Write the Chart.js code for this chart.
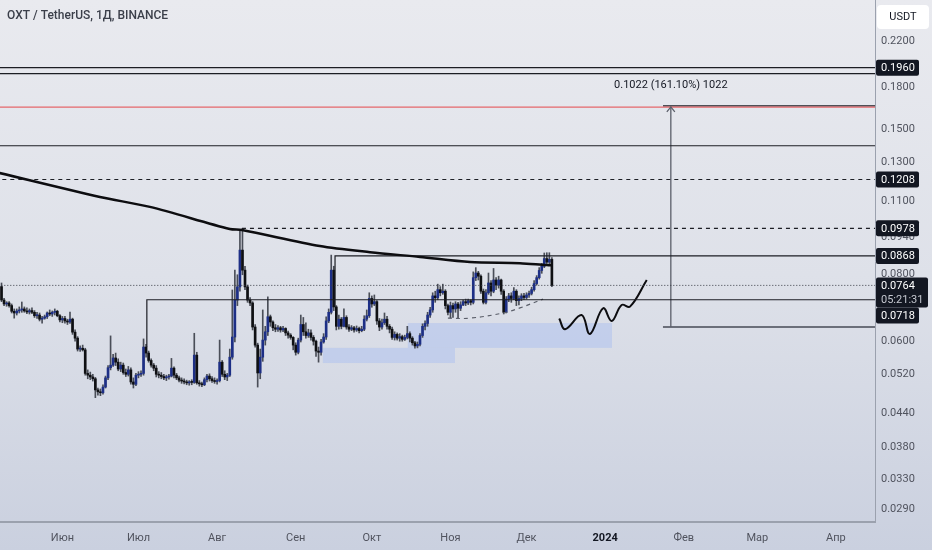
<!DOCTYPE html>
<html lang="ru">
<head>
<meta charset="utf-8">
<title>OXT / TetherUS</title>
<script src="https://cdn.jsdelivr.net/npm/chart.js@4.4.1/dist/chart.umd.min.js"></script>
<style>
  html, body { margin: 0; padding: 0; background: #dfe2ea; }
  #chart-box { width: 932px; height: 550px; }
</style>
</head>
<body>
<div id="chart-box"><canvas id="price-chart" width="932" height="550"></canvas></div>
<script>
// ===== データ =====
// 日数は 2023年6月1日 を 0 とした通し番号（ローソク足は5月8日 = -24 から）
const FIRST_DAY = -24;
const FIRST_OPEN = 0.0760;

// 終値
const closes = [
    0.0717, 0.0705, 0.0708, 0.0700, 0.0683, 0.0678, 0.0684, 0.0687, 0.0690, 0.0684, // -24
    0.0681, 0.0685, 0.0680, 0.0670, 0.0672, 0.0660, 0.0663, 0.0667, 0.0678, 0.0675, // -14
    0.0680, 0.0683, 0.0670, 0.0658, 0.0662, 0.0655, 0.0652, 0.0660, 0.0624, 0.0608, // -4
    0.0580, 0.0582, 0.0578, 0.0522, 0.0518, 0.0514, 0.0510, 0.0486, 0.0482, 0.0480, // 6
    0.0492, 0.0512, 0.0535, 0.0541, 0.0558, 0.0548, 0.0532, 0.0541, 0.0524, 0.0520, // 16
    0.0530, 0.0503, 0.0498, 0.0518, 0.0520, 0.0522, 0.0585, 0.0570, 0.0552, 0.0541, // 26
    0.0534, 0.0520, 0.0518, 0.0515, 0.0512, 0.0514, 0.0516, 0.0534, 0.0518, 0.0512, // 36
    0.0507, 0.0505, 0.0503, 0.0501, 0.0503, 0.0502, 0.0565, 0.0501, 0.0499, 0.0497, // 46
    0.0508, 0.0516, 0.0510, 0.0506, 0.0504, 0.0506, 0.0548, 0.0520, 0.0514, 0.0518, // 56
    0.0560, 0.0611, 0.0717, 0.0759, 0.0890, 0.0816, 0.0759, 0.0717, 0.0708, 0.0638, // 66
    0.0590, 0.0523, 0.0560, 0.0603, 0.0625, 0.0667, 0.0652, 0.0636, 0.0632, 0.0636, // 76
    0.0630, 0.0634, 0.0622, 0.0616, 0.0610, 0.0590, 0.0572, 0.0603, 0.0645, 0.0625, // 86
    0.0615, 0.0622, 0.0610, 0.0600, 0.0575, 0.0572, 0.0598, 0.0611, 0.0655, 0.0680, // 96
    0.0816, 0.0696, 0.0640, 0.0660, 0.0640, 0.0665, 0.0638, 0.0632, 0.0636, 0.0630, // 106
    0.0634, 0.0628, 0.0632, 0.0660, 0.0670, 0.0722, 0.0705, 0.0712, 0.0655, 0.0638, // 116
    0.0650, 0.0660, 0.0640, 0.0632, 0.0610, 0.0618, 0.0608, 0.0612, 0.0605, 0.0610, // 126
    0.0620, 0.0608, 0.0596, 0.0588, 0.0592, 0.0615, 0.0640, 0.0648, 0.0672, 0.0687, // 136
    0.0730, 0.0724, 0.0750, 0.0740, 0.0745, 0.0700, 0.0680, 0.0700, 0.0690, 0.0705, // 146
    0.0692, 0.0702, 0.0712, 0.0708, 0.0715, 0.0710, 0.0790, 0.0806, 0.0795, 0.0745, // 156
    0.0710, 0.0740, 0.0772, 0.0745, 0.0782, 0.0765, 0.0782, 0.0745, 0.0680, 0.0720, // 166
    0.0730, 0.0722, 0.0745, 0.0715, 0.0722, 0.0730, 0.0725, 0.0733, 0.0738, 0.0750, // 176
    0.0770, 0.0790, 0.0815, 0.0830, 0.0858, 0.0845, 0.0855, 0.0764                  // 186
];

// 高値
const highs = [
    0.0772, 0.0722, 0.0712, 0.0712, 0.0705, 0.0690, 0.0690, 0.0696, 0.0711, 0.0696,
    0.0693, 0.0690, 0.0693, 0.0685, 0.0680, 0.0678, 0.0668, 0.0672, 0.0681, 0.0687,
    0.0684, 0.0690, 0.0686, 0.0673, 0.0668, 0.0668, 0.0660, 0.0681, 0.0663, 0.0630,
    0.0612, 0.0588, 0.0590, 0.0582, 0.0530, 0.0525, 0.0520, 0.0513, 0.0490, 0.0488,
    0.0497, 0.0516, 0.0540, 0.0614, 0.0567, 0.0570, 0.0556, 0.0548, 0.0546, 0.0532,
    0.0538, 0.0535, 0.0512, 0.0522, 0.0526, 0.0528, 0.0606, 0.0592, 0.0575, 0.0556,
    0.0545, 0.0540, 0.0526, 0.0524, 0.0520, 0.0518, 0.0520, 0.0557, 0.0537, 0.0522,
    0.0516, 0.0512, 0.0510, 0.0507, 0.0506, 0.0508, 0.0621, 0.0572, 0.0506, 0.0503,
    0.0512, 0.0520, 0.0521, 0.0515, 0.0512, 0.0510, 0.0603, 0.0552, 0.0528, 0.0522,
    0.0580, 0.0749, 0.0816, 0.0800, 0.0971, 0.0978, 0.0830, 0.0765, 0.0725, 0.0712,
    0.0645, 0.0595, 0.0580, 0.0687, 0.0640, 0.0727, 0.0672, 0.0655, 0.0645, 0.0642,
    0.0640, 0.0640, 0.0636, 0.0627, 0.0620, 0.0612, 0.0596, 0.0608, 0.0672, 0.0665,
    0.0650, 0.0632, 0.0630, 0.0615, 0.0603, 0.0585, 0.0605, 0.0620, 0.0667, 0.0690,
    0.0871, 0.0830, 0.0700, 0.0672, 0.0665, 0.0690, 0.0670, 0.0645, 0.0642, 0.0640,
    0.0641, 0.0638, 0.0640, 0.0670, 0.0687, 0.0740, 0.0730, 0.0733, 0.0715, 0.0662,
    0.0660, 0.0678, 0.0668, 0.0645, 0.0638, 0.0625, 0.0622, 0.0620, 0.0616, 0.0616,
    0.0640, 0.0625, 0.0612, 0.0600, 0.0598, 0.0620, 0.0647, 0.0655, 0.0680, 0.0695,
    0.0740, 0.0745, 0.0768, 0.0760, 0.0768, 0.0750, 0.0705, 0.0711, 0.0708, 0.0712,
    0.0710, 0.0712, 0.0717, 0.0720, 0.0720, 0.0718, 0.0810, 0.0825, 0.0812, 0.0800,
    0.0752, 0.0750, 0.0806, 0.0780, 0.0822, 0.0790, 0.0795, 0.0785, 0.0750, 0.0728,
    0.0738, 0.0740, 0.0757, 0.0750, 0.0730, 0.0737, 0.0738, 0.0740, 0.0745, 0.0758,
    0.0780, 0.0797, 0.0825, 0.0840, 0.0879, 0.0880, 0.0880, 0.0862
];

// 安値
const lows = [
    0.0712, 0.0700, 0.0698, 0.0695, 0.0678, 0.0663, 0.0672, 0.0678, 0.0680, 0.0680,
    0.0676, 0.0675, 0.0676, 0.0665, 0.0662, 0.0655, 0.0649, 0.0660, 0.0662, 0.0670,
    0.0668, 0.0672, 0.0667, 0.0652, 0.0650, 0.0649, 0.0645, 0.0648, 0.0618, 0.0600,
    0.0575, 0.0574, 0.0575, 0.0518, 0.0510, 0.0508, 0.0505, 0.0470, 0.0475, 0.0474,
    0.0477, 0.0490, 0.0508, 0.0530, 0.0538, 0.0540, 0.0528, 0.0526, 0.0520, 0.0515,
    0.0516, 0.0498, 0.0490, 0.0495, 0.0512, 0.0515, 0.0518, 0.0560, 0.0548, 0.0536,
    0.0528, 0.0514, 0.0512, 0.0510, 0.0508, 0.0506, 0.0509, 0.0514, 0.0512, 0.0508,
    0.0503, 0.0500, 0.0499, 0.0497, 0.0496, 0.0497, 0.0500, 0.0498, 0.0494, 0.0493,
    0.0495, 0.0503, 0.0505, 0.0502, 0.0500, 0.0498, 0.0503, 0.0515, 0.0508, 0.0506,
    0.0515, 0.0555, 0.0598, 0.0700, 0.0745, 0.0800, 0.0750, 0.0710, 0.0700, 0.0630,
    0.0585, 0.0492, 0.0510, 0.0550, 0.0590, 0.0615, 0.0640, 0.0628, 0.0625, 0.0626,
    0.0624, 0.0625, 0.0615, 0.0608, 0.0605, 0.0578, 0.0565, 0.0568, 0.0598, 0.0615,
    0.0608, 0.0610, 0.0603, 0.0590, 0.0562, 0.0548, 0.0565, 0.0595, 0.0605, 0.0650,
    0.0675, 0.0685, 0.0630, 0.0632, 0.0633, 0.0638, 0.0632, 0.0626, 0.0628, 0.0624,
    0.0626, 0.0622, 0.0625, 0.0628, 0.0655, 0.0665, 0.0695, 0.0700, 0.0645, 0.0628,
    0.0632, 0.0645, 0.0632, 0.0622, 0.0605, 0.0603, 0.0603, 0.0600, 0.0600, 0.0602,
    0.0606, 0.0598, 0.0590, 0.0582, 0.0583, 0.0588, 0.0610, 0.0630, 0.0640, 0.0665,
    0.0680, 0.0710, 0.0718, 0.0730, 0.0735, 0.0690, 0.0672, 0.0663, 0.0665, 0.0680,
    0.0663, 0.0685, 0.0700, 0.0700, 0.0703, 0.0702, 0.0705, 0.0780, 0.0782, 0.0738,
    0.0705, 0.0705, 0.0735, 0.0730, 0.0740, 0.0750, 0.0755, 0.0735, 0.0675, 0.0678,
    0.0712, 0.0710, 0.0718, 0.0700, 0.0702, 0.0715, 0.0718, 0.0720, 0.0725, 0.0733,
    0.0745, 0.0765, 0.0785, 0.0805, 0.0825, 0.0835, 0.0838, 0.0760
];

// 月の区切り（日数）とラベル
const monthDays = [0, 30, 61, 92, 122, 153, 183, 214, 245, 274, 305];
const monthLabels = ['Июн', 'Июл', 'Авг', 'Сен', 'Окт', 'Ноя', 'Дек', '2024', 'Фев', 'Мар', 'Апр'];

// 価格軸の目盛り
const priceTicks = [0.0290, 0.0330, 0.0380, 0.0440, 0.0520, 0.0600, 0.0800, 0.0940, 0.1100, 0.1300, 0.1500, 0.1800, 0.2200];

// 移動平均線（チャートから読み取った点）
const maDays = [-25, 14.8, 34.5, 66, 70.8, 101.5, 121.3, 141, 160.7, 180.4, 191, 193];
const maValues = [0.1243, 0.1120, 0.1073, 0.0975, 0.0971, 0.0906, 0.0882, 0.0864, 0.0845, 0.0841, 0.0834, 0.0834];

// 水平線
const solidLevels = [0.1960, 0.1910, 0.1398];
const redLevel = 0.1653;
const dashedLevel = 0.1208;
const lastPrice = 0.0764;

// 高値からの水平線（開始日, 価格）
const peakDay = 70.8;
const peakLevel = 0.0978;
const rangeTopDay = 107.5;
const rangeTop = 0.0868;
const rangeTopFoot = 0.0696;
const rangeLowDay = 33.3;
const rangeLow = 0.0718;
const rangeLowFoot = 0.0585;

// 需要ゾーン（青い矩形）
const zoneStartDays = [102.7, 136.2];
const zoneEndDays = [154.8, 216.7];
const zoneLows = [0.0546, 0.0583];
const zoneHighs = [0.0583, 0.0649];

// 丸底の破線
const bowlDays = [152, 160.7, 173.7, 180.4, 189.5];
const bowlValues = [0.0663, 0.0663, 0.0678, 0.0693, 0.0720];

// 予想パス（手書きの波線）
const pathDays = [195.9, 198.2, 204.7, 208, 213.2, 216.6, 220.5, 223.8, 230.4];
const pathValues = [0.0662, 0.0632, 0.0672, 0.0619, 0.0692, 0.0655, 0.0702, 0.0697, 0.0782];

// 値幅計測（矢印）
const measureDay = 239.9;
const measureStartDay = 236.8;
const measureFrom = 0.0638;
const measureTo = 0.1661;
const measureLabel = '0.1022 (161.10%) 1022';
const measureLabelPrice = 0.1818;

// 価格軸のラベル
const axisMarks = [0.1960, 0.1208, 0.0978, 0.0868];
const countdown = '05:21:31';
const lowMark = 0.0718;

// 表示範囲
const X_MIN = -24.6;
const X_MAX = 320.4;
const Y_MIN = 0.02744;
const Y_MAX = 0.2627;
const LINE_END = 340;

const UP_COLOR = '#1d2f86';
const DOWN_COLOR = '#0f1013';
const WICK_COLOR = '#4a4e58';
const FONT = 'Roboto, "Noto Sans", sans-serif';

// ===== ローソク足の組み立て =====
const days = closes.map((_, i) => FIRST_DAY + i);
const opens = closes.map((c, i) => (i === 0 ? FIRST_OPEN : closes[i - 1]));
const wickData = days.map((d, i) => ({ x: d, y: [lows[i], highs[i]] }));
const bodyData = days.map((d, i) => ({ x: d, y: [Math.min(opens[i], closes[i]), Math.max(opens[i], closes[i])] }));
const bodyColors = days.map((_, i) => (closes[i] >= opens[i] ? UP_COLOR : DOWN_COLOR));

/**
 * 線データセットを作る
 * @param {Array<object>} points - {x, y} の配列
 * @param {string} color - 線の色
 * @param {number} width - 線の太さ
 * @param {Array<number>} dash - 破線パターン
 * @param {number} tension - 曲線の張り
 */
function lineSet(points, color, width, dash = [], tension = 0) {
    return {
        type: 'line', data: points, borderColor: color, borderWidth: width,
        borderDash: dash, pointRadius: 0, tension: tension, order: 0, fill: false
    };
}

const toPoints = (xs, ys) => xs.map((x, i) => ({ x: x, y: ys[i] }));
const level = (v, from = -30) => [{ x: from, y: v }, { x: LINE_END, y: v }];

/**
 * 角丸の矩形パス
 */
function roundBox(ctx, x, y, w, h, r) {
    ctx.beginPath();
    ctx.moveTo(x + r, y);
    ctx.lineTo(x + w - r, y);
    ctx.quadraticCurveTo(x + w, y, x + w, y + r);
    ctx.lineTo(x + w, y + h - r);
    ctx.quadraticCurveTo(x + w, y + h, x + w - r, y + h);
    ctx.lineTo(x + r, y + h);
    ctx.quadraticCurveTo(x, y + h, x, y + h - r);
    ctx.lineTo(x, y + r);
    ctx.quadraticCurveTo(x, y, x + r, y);
    ctx.closePath();
}

// 軸ラベルのはみ出し分の余白を消す（プロット領域をキャンバス端まで広げる）
function noScalePadding(scale) {
    scale.paddingTop = 0;
    scale.paddingBottom = 0;
    scale.paddingLeft = 0;
    scale.paddingRight = 0;
}

// 背景
const backgroundPlugin = {
    id: 'background',
    beforeDraw(chart) {
        const { ctx, width, height } = chart;
        const g = ctx.createLinearGradient(0, 0, 0, height);
        g.addColorStop(0, '#e9eaef');
        g.addColorStop(0.5, '#dee1e9');
        g.addColorStop(1, '#cad0df');
        ctx.save();
        ctx.fillStyle = g;
        ctx.fillRect(0, 0, width, height);
        ctx.restore();
    }
};

// 青いゾーン（ローソク足の下に描く）
const zonePlugin = {
    id: 'zones',
    beforeDatasetsDraw(chart) {
        const { ctx, chartArea, scales: { x, y } } = chart;
        ctx.save();
        ctx.beginPath();
        ctx.rect(chartArea.left, chartArea.top, chartArea.width, chartArea.height);
        ctx.clip();
        ctx.fillStyle = 'rgba(172, 192, 240, 0.5)';
        zoneStartDays.forEach((d, i) => {
            const x1 = x.getPixelForValue(d);
            const x2 = x.getPixelForValue(zoneEndDays[i]);
            const y1 = y.getPixelForValue(zoneHighs[i]);
            const y2 = y.getPixelForValue(zoneLows[i]);
            ctx.fillRect(x1, y1, x2 - x1, y2 - y1);
        });
        ctx.restore();
    }
};

// 矢印の先端と計測ラベル
const measurePlugin = {
    id: 'measure',
    afterDatasetsDraw(chart) {
        const { ctx, scales: { x, y } } = chart;
        const px = x.getPixelForValue(measureDay);
        const top = y.getPixelForValue(measureTo);
        ctx.save();
        ctx.strokeStyle = '#5b5f6a';
        ctx.lineWidth = 1.3;
        ctx.beginPath();
        ctx.moveTo(px - 4, top + 6);
        ctx.lineTo(px, top + 1);
        ctx.lineTo(px + 4, top + 6);
        ctx.stroke();
        ctx.fillStyle = '#131722';
        ctx.font = '11px ' + FONT;
        ctx.textAlign = 'center';
        ctx.textBaseline = 'middle';
        ctx.fillText(measureLabel, px, y.getPixelForValue(measureLabelPrice));
        ctx.restore();
    }
};

// 価格ラベル・タイトル
const labelPlugin = {
    id: 'labels',
    afterDraw(chart) {
        const { ctx, chartArea, scales: { y } } = chart;
        const left = chartArea.right + 1;
        ctx.save();
        ctx.font = '11px ' + FONT;
        ctx.textBaseline = 'middle';
        ctx.textAlign = 'left';

        axisMarks.forEach(v => {
            const py = y.getPixelForValue(v);
            ctx.fillStyle = '#131722';
            roundBox(ctx, left, py - 8, 43, 16, 2);
            ctx.fill();
            ctx.fillStyle = '#ffffff';
            ctx.fillText(v.toFixed(4), left + 5, py + 0.5);
        });

        // 現在値とカウントダウン
        const lastY = y.getPixelForValue(lastPrice);
        ctx.fillStyle = '#131722';
        roundBox(ctx, left, lastY - 8, 52, 30, 2);
        ctx.fill();
        ctx.fillStyle = '#ffffff';
        ctx.fillText(lastPrice.toFixed(4), left + 5, lastY + 0.5);
        ctx.fillStyle = '#c4c7cf';
        ctx.fillText(countdown, left + 5, lastY + 14.5);

        // 重なる安値ラベルは下にずらす
        const lowY = Math.max(y.getPixelForValue(lowMark), lastY + 30);
        ctx.fillStyle = '#131722';
        roundBox(ctx, left, lowY - 8, 43, 16, 2);
        ctx.fill();
        ctx.fillStyle = '#ffffff';
        ctx.fillText(lowMark.toFixed(4), left + 5, lowY + 0.5);

        // 通貨表示
        ctx.fillStyle = '#ffffff';
        roundBox(ctx, 877, 5, 52, 24, 4);
        ctx.fill();
        ctx.fillStyle = '#131722';
        ctx.textAlign = 'center';
        ctx.fillText('USDT', 903, 17.5);

        // タイトル
        ctx.textAlign = 'left';
        ctx.font = '500 12px ' + FONT;
        ctx.fillStyle = '#3b3f4a';
        ctx.fillText('OXT / TetherUS, 1Д, BINANCE', 7, 16);
        ctx.restore();
    }
};

const datasets = [
    lineSet(toPoints(maDays, maValues), '#0d0d10', 2.5, [], 0.3),
    ...solidLevels.map(v => lineSet(level(v), '#1c1e24', 1.2)),
    lineSet(level(redLevel), '#e5676b', 1.2),
    lineSet(level(dashedLevel), '#1c1e24', 1.2, [4, 4]),
    lineSet(level(peakLevel, peakDay), '#1c1e24', 1.2, [4, 4]),
    lineSet([{ x: rangeTopDay, y: rangeTopFoot }, { x: rangeTopDay, y: rangeTop }, { x: LINE_END, y: rangeTop }], '#1c1e24', 1.2),
    lineSet([{ x: rangeLowDay, y: rangeLowFoot }, { x: rangeLowDay, y: rangeLow }, { x: LINE_END, y: rangeLow }], '#1c1e24', 1.2),
    lineSet(level(lastPrice), '#3a3d46', 1, [1, 2]),
    lineSet(toPoints(bowlDays, bowlValues), '#5b5f6a', 1.2, [4, 4], 0.4),
    lineSet(toPoints(pathDays, pathValues), '#0d0d10', 2, [], 0.4),
    lineSet([{ x: measureDay, y: measureFrom }, { x: measureDay, y: measureTo }], '#5b5f6a', 1.3),
    lineSet(level(measureFrom, measureStartDay), '#6b6f7a', 2),
    lineSet(level(measureTo, measureStartDay), '#1c1e24', 1.2),
    {
        type: 'bar', data: bodyData, backgroundColor: bodyColors, barThickness: 2,
        minBarLength: 1, grouped: false, order: 1
    },
    {
        type: 'bar', data: wickData, backgroundColor: WICK_COLOR, barThickness: 1,
        grouped: false, order: 2
    }
];

new Chart(document.getElementById('price-chart'), {
    type: 'bar',
    data: { datasets: datasets },
    plugins: [backgroundPlugin, zonePlugin, measurePlugin, labelPlugin],
    options: {
        responsive: false,
        animation: false,
        devicePixelRatio: 1,
        layout: { padding: 0 },
        plugins: { legend: { display: false }, tooltip: { enabled: false } },
        font: { family: FONT },
        scales: {
            x: {
                type: 'linear', min: X_MIN, max: X_MAX, offset: false,
                grid: { display: false, drawTicks: false },
                border: { display: true, color: '#9ba1ae', width: 2 },
                afterBuildTicks: s => { s.ticks = monthDays.map(v => ({ value: v })); },
                afterFit: s => { s.height = 28; noScalePadding(s); },
                ticks: {
                    autoSkip: false, maxRotation: 0, padding: 10,
                    color: c => (c.tick && c.tick.value === 214 ? '#131722' : '#50535e'),
                    font: c => ({ family: FONT, size: 11, weight: c.tick && c.tick.value === 214 ? 'bold' : 'normal' }),
                    callback: v => monthLabels[monthDays.indexOf(v)] ?? ''
                }
            },
            y: {
                type: 'logarithmic', position: 'right', min: Y_MIN, max: Y_MAX, bounds: 'data',
                grid: { display: false, drawTicks: false },
                border: { display: true, color: '#9ba1ae', width: 1 },
                afterBuildTicks: s => { s.ticks = priceTicks.map(v => ({ value: v })); },
                afterFit: s => { s.width = 57; noScalePadding(s); },
                ticks: {
                    padding: 6, color: '#50535e', font: { family: FONT, size: 11 },
                    callback: v => Number(v).toFixed(4)
                }
            }
        }
    }
});
</script>
</body>
</html>
